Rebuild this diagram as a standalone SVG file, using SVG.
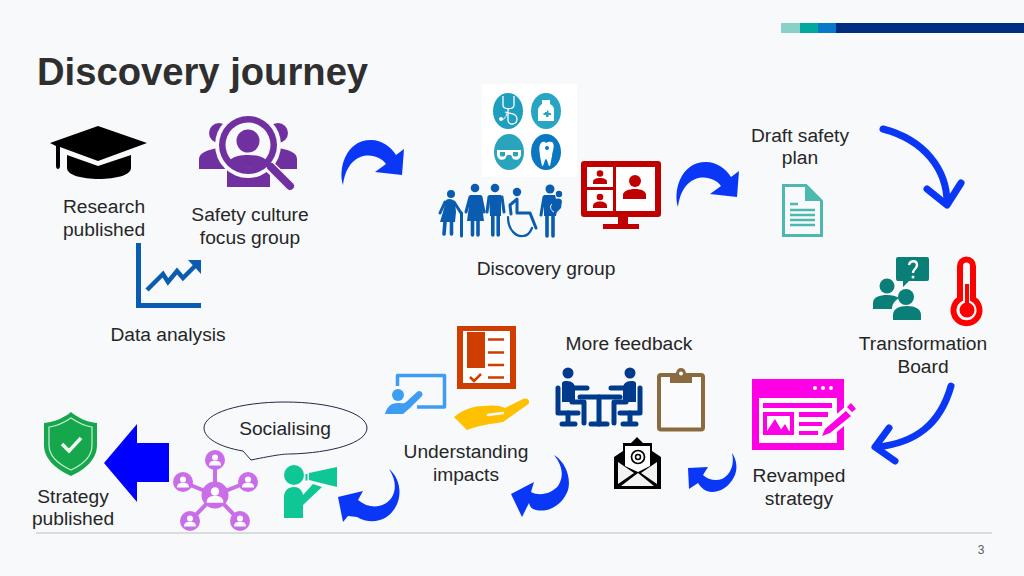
<svg xmlns="http://www.w3.org/2000/svg" width="1024" height="576" viewBox="0 0 1024 576">
<defs>
<style>
.t{font-family:"Liberation Sans",Arial,sans-serif;font-size:19.2px;fill:#262626;text-anchor:middle}
.title{font-family:"Liberation Sans",Arial,sans-serif;font-size:38.2px;font-weight:bold;fill:#2f2f2f}
.num{font-family:"Liberation Sans",Arial,sans-serif;font-size:12px;fill:#595959;text-anchor:middle}
.curve{fill:#0a37f5}
.stroke{fill:none;stroke:#0a37f5;stroke-width:7;stroke-linecap:round;stroke-linejoin:round}
.w{fill:#fff}
.pu{fill:#c96ee8}
.fig{fill:#0a5cb0;stroke:none}
.lim{fill:none;stroke:#0a5cb0;stroke-linecap:round;stroke-linejoin:round;stroke-width:3}
.leg{fill:none;stroke:#0a5cb0;stroke-linecap:round;stroke-width:3.600}
.meet{fill:none;stroke:#003a8c;stroke-linecap:round;stroke-linejoin:round;stroke-width:5}
</style>
<path id="curveUp" d="M343 185C338 170 345 140 371 140C382 140 391 147 396 155L404 149L402 175L375 172L386 164C378 152 348 148 343 185Z"/>
<g id="netP"><circle cx="0" cy="-2.500" r="3"/><path d="M-6 5.500C-6 1.500 -3 .8 0 .8S6 1.500 6 5.500Z"/></g>
<g id="sitter">
<circle cx="568" cy="373" r="5.500" fill="#003a8c"/>
<path d="M558 388V413H578" class="meet" stroke-width="4"/>
<path d="M568 413V423M562 424H575" class="meet" stroke-width="4"/>
<path d="M562 384C562 381 564 381 567 381C572 381 575 384 575 388V402H562Z" fill="#003a8c"/>
<path d="M572 388H587M572 402H584V423" class="meet"/>
</g>
</defs>
<rect width="1024" height="576" fill="#f7f9fb"/>
<g id="brandbar">
<rect x="781" y="23" width="20" height="10" fill="#88d0c8"/>
<rect x="800" y="23" width="18" height="10" fill="#00a99d"/>
<rect x="818" y="23" width="18" height="10" fill="#0a78c8"/>
<rect x="836" y="23" width="188" height="10" fill="#002d80"/>
</g>
<text class="title" x="37" y="85">Discovery journey</text>

<g id="connectors">
<use href="#curveUp" class="curve"/>
<use href="#curveUp" class="curve" transform="translate(335 22)"/>
<path class="stroke" d="M883 129C925 140 947 170 947 203"/>
<path class="stroke" d="M927 189L947 205L961 183"/>
<path class="stroke" d="M951 386C940 425 915 443 877 447"/>
<path class="stroke" d="M889 428L875 447L895 461"/>
<path class="curve" d="M732 453C737 460 738 470 734 477C729 487 720 492 712 492C706 492 701 488 698 483L689 489L688 468L708 467L703 475C708 480 716 481 722 479C730 475 735 465 732 453Z"/>
<path class="curve" d="M554 455C567 463 571 480 568 490C563 505 548 513 536 510C532 509 530 507 529 503L522 517L511 494L534 482L531 492C540 497 552 493 558 486C564 477 563 466 554 455Z"/>
<path class="curve" d="M389 469C400 478 403 495 395 508C388 520 372 526 357 517L348 516L343 522L338 497L363 491L358 500C370 510 385 508 392 497C397 488 395 478 389 469Z"/>
<path fill="#0000ff" d="M104 463L137 424V443H169V482H137V502Z"/>
</g>

<g id="research">
<path d="M67 155V168C67 175 82 179 99 179S131 175 131 168V155L98 166Z" fill="#000"/>
<path d="M98 126L147 143L98 161L60 147V166C60 170 56 170 56 166V146L50 143Z" fill="#000"/>
<text class="t"><tspan x="104" y="213">Research</tspan><tspan x="104" y="236">published</tspan></text>
</g>

<g id="focus-group">
<g fill="#7030a0">
<circle cx="219" cy="133" r="10"/><circle cx="278" cy="133" r="10"/>
<path d="M199 169V159C199 153 207 150 218 148H278C290 150 297 153 297 159V169Z"/>
<rect x="227" y="165" width="43" height="22"/>
</g>
<circle cx="248" cy="145" r="33" fill="#f7f9fb"/>
<path d="M271 168L291 187" stroke="#f7f9fb" stroke-width="12" stroke-linecap="round"/>
<g fill="#7030a0">
<circle cx="248" cy="145" r="29"/>
<circle cx="248" cy="145" r="22.500" fill="#f7f9fb"/>
<circle cx="248" cy="141" r="11.500"/>
<path d="M230 160C234 156 241 155 248 155S262 156 266 160C262 165 256 168 248 168S234 165 230 160Z"/>
<path d="M271 167L290 186" stroke="#7030a0" stroke-width="8" stroke-linecap="round"/>
</g>
<text class="t"><tspan x="250" y="221">Safety culture</tspan><tspan x="250" y="244">focus group</tspan></text>
</g>

<g id="data-analysis">
<path d="M136 243H141V303H201V308H136Z" fill="#0a5cb0"/>
<path d="M147 290L163 274L168 282L177 271L183 278L196 265" fill="none" stroke="#0a5cb0" stroke-width="4.500"/>
<path d="M188 260H201V274Z" fill="#0a5cb0"/>
<text class="t" x="168" y="341">Data analysis</text>
</g>

<g id="discovery-group">
<rect x="482" y="84" width="95" height="93" fill="#fff"/>
<ellipse cx="508" cy="111" rx="15" ry="18" fill="#1f9fc0"/>
<ellipse cx="546" cy="111" rx="15" ry="18" fill="#27a5c2"/>
<ellipse cx="509" cy="152" rx="15" ry="18" fill="#2aa3bd"/>
<ellipse cx="546" cy="152" rx="15" ry="18" fill="#0a78c0"/>
<path d="M503 96V105C503 110 514 110 514 105V96M508 109V120C508 126 517 125 517 119C517 113 510 114 505 112" fill="none" stroke="#fff" stroke-width="1.300"/>
<circle cx="501" cy="119" r="2" class="w"/>
<path d="M500 119C504 121 507 116 507 112" fill="none" stroke="#fff"/>
<path d="M542 100H550V104C553 106 554 107 554 110V121H538V110C538 107 540 106 542 104Z" class="w"/>
<path d="M545 112H547V110.500H548.500V113H551V115H548.500V117H546V115H543.500V113H545Z" fill="#27a5c2"/>
<path d="M497 150H521V154C521 159 517 161 513 159L511 155H507L505 159C501 161 497 159 497 154Z" class="w"/>
<path d="M500 152H505V155C505 157 500 157 500 155ZM513 152H518V155C518 157 513 157 513 155Z" fill="#2aa3bd"/>
<path d="M541 143C543 141 545 142 546 143C548 142 551 141 553 143C555 147 552 152 552 156L550 166C548 167 548 160 546 159C544 160 544 167 542 166L540 156C540 152 538 147 541 143Z" class="w"/>
<circle cx="547" cy="148" r="2" fill="#0a78c0"/>
<g id="people">
<circle class="fig" cx="451" cy="194" r="4"/>
<path class="fig" d="M446 200C449 198 453 199 455 202L456 212L455 222H440L443 212Z"/>
<path class="lim" d="M445 202L440 213M454 202L461 213" stroke-width="2.600"/>
<path class="lim" d="M461.500 213V236" stroke-width="1.400"/>
<path class="leg" d="M445 222L444 234M451.500 222V234"/>
<circle class="fig" cx="475" cy="188" r="4.300"/>
<path class="fig" d="M470 195H481L482 206L484 221H467L469 206Z"/>
<path class="lim" d="M470 197L466 212M481 197L484 212"/>
<path class="leg" d="M472.500 221V235M478 221V235"/>
<circle class="fig" cx="495" cy="188" r="4.300"/>
<path class="fig" d="M489 195H501V216H490Z"/>
<path class="lim" d="M489 197L487 212M502 197L504 212"/>
<path class="leg" d="M492.800 214V235M498.200 214V235" stroke-width="3.800"/>
<circle class="fig" cx="517" cy="192" r="4.200"/>
<path class="lim" d="M517 199V213H530L536 228" stroke-width="5"/>
<path class="lim" d="M516 200L510 205L511 214" stroke-width="3"/>
<path d="M508 217C508 231 517 237 523 236C527 236 530 233 532 228" fill="none" stroke="#0a5cb0" stroke-width="2.200" stroke-linecap="round"/>
<circle class="fig" cx="550" cy="189" r="4.500"/>
<path class="fig" d="M544 195H555L558 206L556 216H544Z"/>
<path class="lim" d="M544 197L541 215"/>
<path class="leg" d="M547 215V236M553 215V236" stroke-width="4"/>
<circle class="fig" cx="559" cy="194" r="3.200"/>
<path class="fig" d="M555 199C558 198 561 198 562 201L561 208L557 212L553 211L555 205Z"/>
<path d="M552 204C549 206 551 211 554 212" fill="none" stroke="#f7f9fb" stroke-width="1"/>
</g>
<rect x="581" y="161" width="80" height="56" rx="3" fill="#c00000"/>
<rect x="587" y="167" width="26" height="20" class="w"/>
<rect x="587" y="190" width="26" height="21" class="w"/>
<rect x="616" y="167" width="39" height="44" class="w"/>
<path d="M618 217H628V224H639V229H603V224H618Z" fill="#c00000"/>
<g fill="#c00000">
<circle cx="600" cy="173.500" r="3.300"/><path d="M593 184V182C593 179 596 178 600 178S607 179 607 182V184Z"/>
<circle cx="600" cy="197" r="3.300"/><path d="M593 208V206C593 203 596 201.500 600 201.500S607 203 607 206V208Z"/>
<circle cx="635" cy="181" r="6"/><path d="M623 199V195C623 191 629 189 635 189S646 191 646 195V199Z"/>
</g>
<text class="t" x="546" y="275">Discovery group</text>
</g>

<g id="draft-plan">
<text class="t"><tspan x="800" y="142">Draft safety</tspan><tspan x="800" y="164">plan</tspan></text>
<path d="M783.500 185.500H806L821.500 201V235.500H783.500Z" fill="#f7f9fb" stroke="#4db8b0" stroke-width="3"/>
<path d="M805 186V201H821Z" fill="#4db8b0"/>
<path d="M790 204H798M790 210H815M790 215H815M790 220H815M790 225H815" stroke="#4db8b0" stroke-width="2.600"/>
</g>

<g id="transformation-board">
<path d="M896 259Q896 257 898 257H927Q929 257 929 259V279Q929 281 927 281H909L903 287V281H898Q896 281 896 279Z" fill="#0a7f78"/>
<path d="M909 265C910 260 917 260 917 265C917 269 913 269 913 273" fill="none" stroke="#fff" stroke-width="2.400"/>
<circle cx="913" cy="277" r="1.500" class="w"/>
<circle cx="887" cy="286" r="7.500" fill="#0a7f78"/>
<path d="M873 309V303C873 297 880 295 887 295C892 295 896 296 899 298C894 301 892 305 892 309Z" fill="#0a7f78"/>
<circle cx="906" cy="297" r="8" fill="#0a7f78"/>
<path d="M893 320V315C893 309 899 306 907 306S921 309 921 315V320Z" fill="#0a7f78"/>
<path d="M960 299V266A6.500 6.500 0 0 1 973 266V299A13 13 0 1 1 960 299Z" fill="#f7f9fb" stroke="#f00" stroke-width="6"/>
<circle cx="967" cy="310" r="7.500" fill="#f00"/>
<rect x="965" y="284" width="4" height="20" fill="#f00"/>
<text class="t"><tspan x="923" y="350">Transformation</tspan><tspan x="923" y="373">Board</tspan></text>
</g>

<g id="revamped-strategy">
<rect x="752" y="379" width="92" height="71" fill="#ff00e6"/>
<circle cx="815" cy="388" r="2" class="w"/><circle cx="823" cy="388" r="2" class="w"/><circle cx="831" cy="388" r="2" class="w"/>
<rect x="759" y="398" width="78" height="45" class="w"/>
<g fill="#ff00e6">
<rect x="763" y="403" width="69" height="5"/>
<rect x="763" y="412" width="31" height="23"/>
<rect x="799" y="412" width="29" height="5"/>
<rect x="799" y="422" width="23" height="4"/>
<rect x="799" y="431" width="19" height="4"/>
</g>
<rect x="767" y="416" width="23" height="15" class="w"/>
<path d="M767 431L775 419L782 431ZM780 431L785 424L789 431Z" fill="#ff00e6"/>
<path d="M819 439L823 426L846 406L856 416L832 436Z" fill="#fff"/>
<path d="M822 436L825 429L846 411L851 416L830 433ZM847 407L851 403L856 409L852 412Z" fill="#ff00e6"/>
<text class="t"><tspan x="799" y="482">Revamped</tspan><tspan x="799" y="505">strategy</tspan></text>
</g>

<g id="more-feedback">
<text class="t" x="629" y="350">More feedback</text>
<use href="#sitter"/>
<use href="#sitter" transform="translate(1198 0) scale(-1 1)"/>
<path class="meet" d="M580 397H620" stroke-width="4"/>
<path class="meet" d="M599 397V424" stroke-width="5"/>
<path class="meet" d="M591 424H607" stroke-width="4"/>
<rect x="659" y="375" width="44" height="54.500" rx="2" fill="#fafbfc" stroke="#8c6a3f" stroke-width="4"/>
<path d="M670 373H676Q677 368 681 368Q685 368 686 373H692V383H670Z" fill="#8c6a3f"/>
<circle cx="681" cy="373.500" r="2" class="w"/>
<g id="email">
<path d="M614 457L623 451V443H631L637 437L643 443H652V451L661 457V489H614Z" fill="#000"/>
<path d="M625 446H650V466L638 472L625 466Z" class="w"/>
<path d="M618 462L634 473L618 484ZM657 462L641 473L657 484ZM621 486L638 473L654 486Z" fill="#f2f2f2"/>
<circle cx="638" cy="457" r="6.500" fill="none" stroke="#000" stroke-width="1.700"/>
<circle cx="638" cy="457" r="2.500" fill="none" stroke="#000" stroke-width="1.500"/>
</g>
</g>

<g id="understanding-impacts">
<rect x="457" y="326" width="59" height="63" fill="#cf3d00"/>
<rect x="463" y="331" width="47" height="52" class="w"/>
<rect x="467" y="332" width="18" height="36" fill="#cf3d00"/>
<path d="M488 339.500H504M488 352.500H504M488 365H504M488 377.500H504" stroke="#cf3d00" stroke-width="2.500"/>
<path d="M470 377L474 381L481 374" fill="none" stroke="#cf3d00" stroke-width="2.500"/>
<path d="M454 417C463 410 472 406 483 406C492 405 500 405 505 408L523 399C529 397 531 403 527 405L503 422C490 424 480 425 467 430Z" fill="#ffc000"/>
<path d="M488 415L503 413" stroke="#f7f9fb" stroke-width="2.500" stroke-linecap="round"/>
<path d="M397.500 386V375.500H444.500V407H417" fill="none" stroke="#3d9df2" stroke-width="3.500" stroke-linejoin="round"/>
<circle cx="398" cy="395" r="6" fill="#3d9df2"/>
<path d="M385 414C387 406 392 403 398 403C402 403 404 404 406 402L417 392C420 389 424 393 422 396L410 408L403 414Z" fill="#3d9df2"/>
<text class="t"><tspan x="466" y="458">Understanding</tspan><tspan x="466" y="481">impacts</tspan></text>
</g>

<g id="socialising">
<path d="M243 451C219 447 204 438 204 428C204 413 240 402 285 402S367 413 367 428C367 443 331 453 290 454C283 454 276 455 251 460Z" fill="#f7f9fb" stroke="#1f2a44" stroke-width="1"/>
<text class="t" x="285" y="435">Socialising</text>
<circle cx="294" cy="475" r="10" fill="#0fc795"/>
<path d="M284 518V497C284 491 288 487 294 487C299 487 302 490 303 495L313 484L322 487L303 505V518Z" fill="#0fc795"/>
<path d="M309 473L337 467V487L309 480Z" fill="#0fc795"/>
<rect x="305.500" y="474" width="2" height="6.500" fill="#0fc795"/>
</g>

<g id="network">
<path d="M215 460V495M183 482L215 495L248 482M190 521L215 495L240 521" stroke="#c96ee8" stroke-width="4" fill="none"/>
<g class="pu">
<circle cx="215" cy="495" r="13.500"/><circle cx="215" cy="460" r="10"/><circle cx="183" cy="482" r="10"/><circle cx="248" cy="482" r="10"/><circle cx="190" cy="521" r="10"/><circle cx="240" cy="521" r="10"/>
</g>
<g class="w">
<use href="#netP" transform="translate(215 460)"/><use href="#netP" transform="translate(183 482)"/><use href="#netP" transform="translate(248 482)"/><use href="#netP" transform="translate(190 521)"/><use href="#netP" transform="translate(240 521)"/>
<use href="#netP" transform="translate(215 495) scale(1.400)"/>
</g>
</g>

<g id="strategy-published">
<path d="M71 412C78 418 87 422 97 423V445C97 460 84 470 71 476C58 470 44 460 44 445V423C54 422 64 418 71 412Z" fill="#16a64c"/>
<path d="M71 418C77 422 84 426 92 427V445C92 457 82 465 71 470C60 465 49 457 49 445V427C58 426 65 422 71 418Z" fill="none" stroke="#cdeed8" stroke-width="1.200"/>
<path d="M62 444L69 451L81 438" fill="none" stroke="#f0faf3" stroke-width="3.500"/>
<text class="t"><tspan x="73" y="503">Strategy</tspan><tspan x="73" y="525">published</tspan></text>
</g>

<line x1="36" y1="533" x2="992" y2="533" stroke="#bfbfbf" stroke-width="1"/>
<text class="num" x="981" y="554">3</text>
</svg>
